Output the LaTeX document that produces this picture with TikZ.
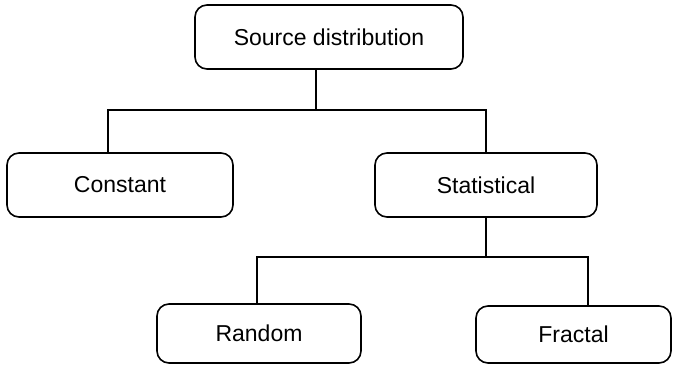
\documentclass[tikz,border=0pt]{standalone}
\usepackage{fontspec}
\setmainfont{Liberation Sans}
\usepackage{tikz}
\usetikzlibrary{positioning}

\tikzset{
    box/.style={draw, line width=1.6pt, rounded corners=12pt, align=center,
        font=\fontsize{23}{27}\selectfont, inner sep=0pt},
    link/.style={line width=1.6pt}
}

\begin{document}
\begin{tikzpicture}[x=1pt, y=1pt]

    \useasboundingbox (0,0) rectangle (674,-366);

    % Top level
    \node[box, minimum width=268pt, minimum height=64pt] (src) at (329,-37) {Source distribution};

    % Second level
    \node[box, minimum width=226pt, minimum height=64pt] (const) at (120,-185) {Constant};
    \node[box, minimum width=222pt, minimum height=64pt] (stat) at (486,-185) {Statistical};

    % Third level
    \node[box, minimum width=204pt, minimum height=59pt] (rand) at (259,-333.5) {Random};
    \node[box, minimum width=195pt, minimum height=57pt] (frac) at (573.5,-334.5) {Fractal};

    % Bus lines
    \coordinate (bus1) at (316,-110);
    \coordinate (bus2) at (486,-257);

    \draw[link] (src.south -| bus1) -- (bus1);
    \draw[link] ([xshift=-12pt]const.north) |- (bus1) -| (stat.north);

    \draw[link] (stat.south) -- (bus2);
    \draw[link] ([xshift=-2pt]rand.north) |- (bus2) -| ([xshift=14.5pt]frac.north);
\end{tikzpicture}
\end{document}
